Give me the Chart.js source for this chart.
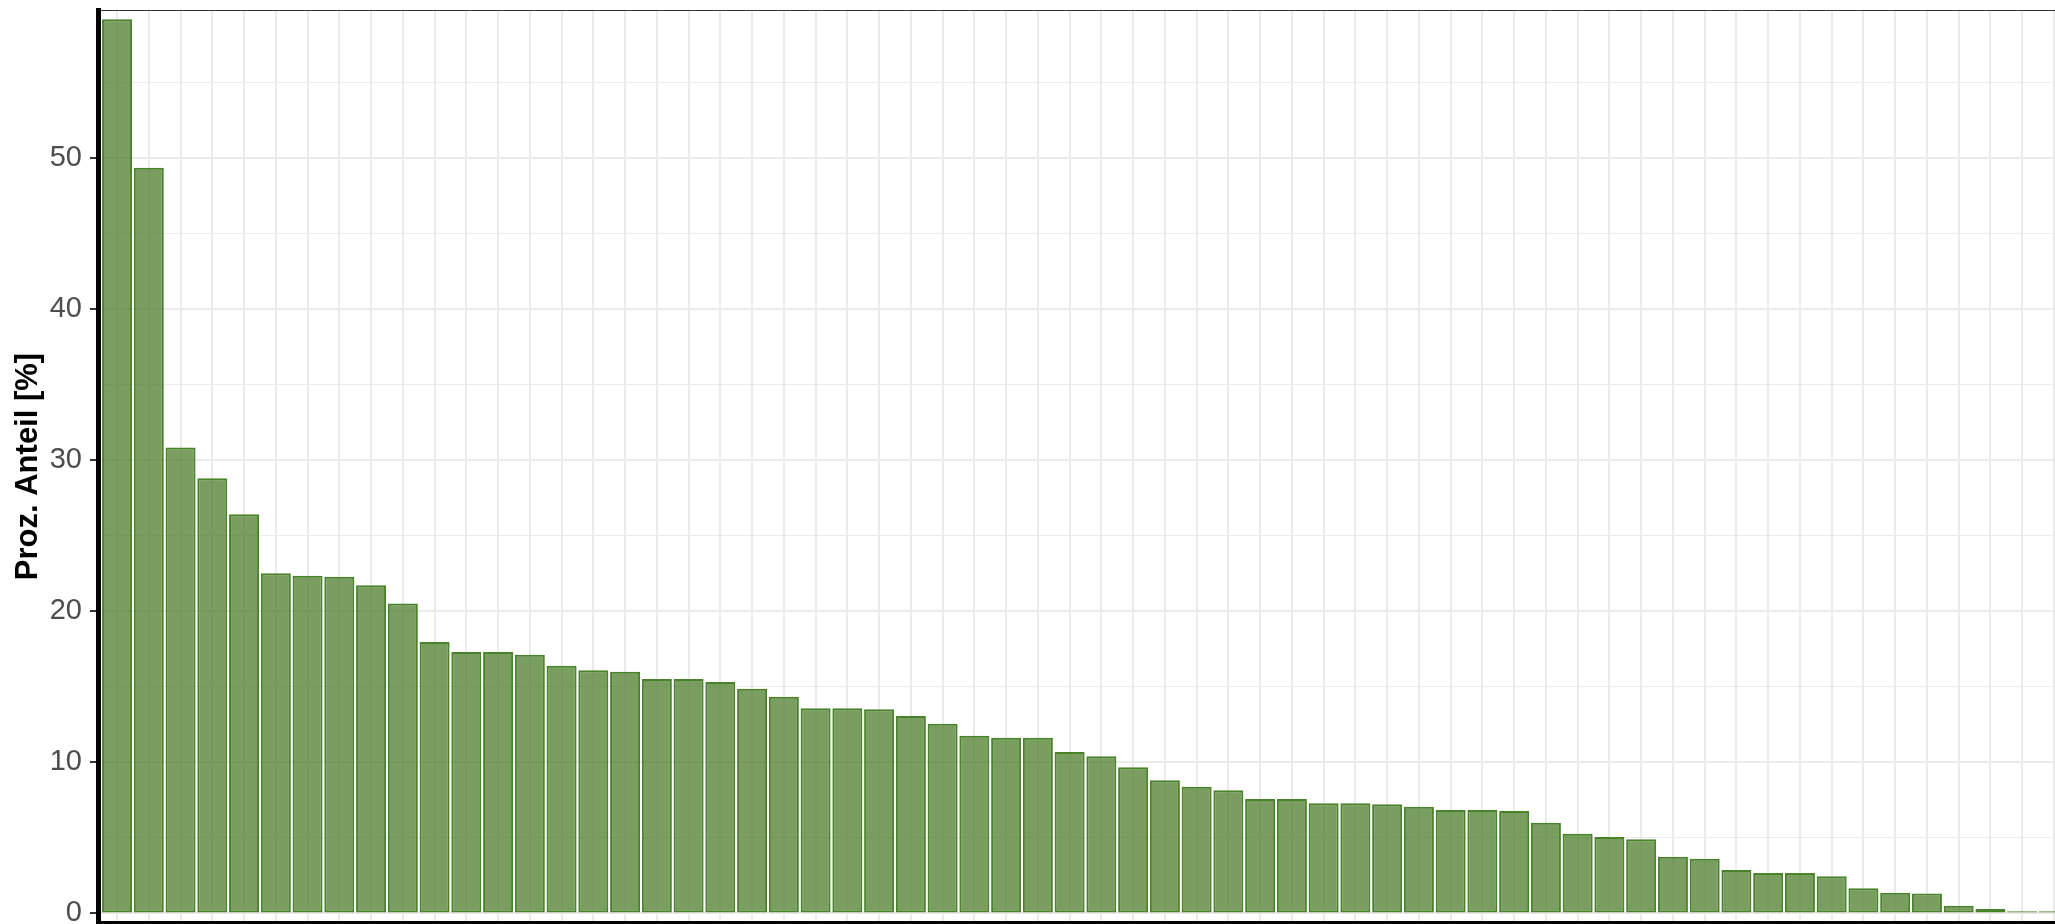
<!DOCTYPE html>
<html>
<head>
<meta charset="utf-8">
<script src="https://cdn.jsdelivr.net/npm/chart.js@4/dist/chart.umd.min.js"></script>
<style>
  html, body { margin: 0; padding: 0; background: #fff; overflow: hidden; }
  canvas { display: block; }
</style>
</head>
<body>
<canvas id="chart" width="2073" height="924"></canvas>
<script>
// categories (names are cut off in the picture, so just their rank)
const categories = [1, 2, 3, 4, 5, 6, 7, 8, 9, 10, 11, 12, 13, 14, 15, 16, 17, 18, 19, 20,
  21, 22, 23, 24, 25, 26, 27, 28, 29, 30, 31, 32, 33, 34, 35, 36, 37, 38, 39, 40,
  41, 42, 43, 44, 45, 46, 47, 48, 49, 50, 51, 52, 53, 54, 55, 56, 57, 58, 59, 60, 61, 62];

// Proz. Anteil [%]
const shares = [59.22, 49.39, 30.85, 28.82, 26.44, 22.53, 22.37, 22.30, 21.74, 20.52,
  17.98, 17.32, 17.32, 17.14, 16.41, 16.11, 16.01, 15.53, 15.53, 15.33,
  14.89, 14.36, 13.59, 13.59, 13.52, 13.08, 12.57, 11.77, 11.64, 11.64,
  10.70, 10.41, 9.68, 8.82, 8.40, 8.16, 7.58, 7.58, 7.30, 7.30,
  7.23, 7.07, 6.85, 6.85, 6.79, 6.01, 5.28, 5.07, 4.91, 3.76,
  3.63, 2.88, 2.68, 2.68, 2.46, 1.67, 1.38, 1.32, 0.52, 0.30, 0.15, 0.15];

const yMajor = [0, 10, 20, 30, 40, 50];
const yMinor = [5, 15, 25, 35, 45, 55];

const yTicks = yMajor.concat(yMinor).sort((a, b) => a - b);
const isMajor = v => yMajor.includes(v);

new Chart(document.getElementById('chart'), {
  type: 'bar',
  data: {
    datasets: [{
      data: categories.map((c, i) => ({ x: c, y: shares[i] })),
      backgroundColor: 'rgba(76, 126, 42, 0.75)',
      borderColor: '#4a822b',
      borderWidth: 2,
      borderSkipped: false,
      barPercentage: 0.945,
      categoryPercentage: 1
    }]
  },
  options: {
    responsive: false,
    devicePixelRatio: 1,
    animation: false,
    layout: { padding: 0 },
    plugins: { legend: { display: false }, tooltip: { enabled: false } },
    scales: {
      x: {
        type: 'linear',
        position: 'bottom',
        offset: false,
        min: 0.4,
        max: 62.6,
        afterBuildTicks: s => { s.ticks = categories.map(v => ({ value: v })); },
        afterFit: s => { s.height = 1; s.paddingLeft = 0; s.paddingRight = 0; },
        ticks: { display: false },
        grid: { color: '#ebebeb', lineWidth: 2, drawTicks: false, offset: false },
        border: { color: '#000', width: 4 }
      },
      xTop: {
        type: 'linear',
        position: 'top',
        offset: false,
        afterFit: s => { s.height = 10; s.paddingLeft = 0; s.paddingRight = 0; },
        ticks: { display: false },
        grid: { display: false, drawTicks: false },
        border: { color: '#333', width: 1 }
      },
      y: {
        min: -0.63,
        max: 59.83,
        afterBuildTicks: s => { s.ticks = yTicks.map(v => ({ value: v })); },
        afterFit: s => { s.width = 98; s.paddingTop = 0; s.paddingBottom = 0; },
        ticks: {
          callback: v => isMajor(v) ? v : '',
          color: '#4d4d4d',
          padding: 8,
          font: { family: '"Liberation Sans", Arial, sans-serif', size: 29 }
        },
        grid: {
          color: '#ebebeb',
          lineWidth: ctx => isMajor(ctx.tick.value) ? 2 : 1,
          tickColor: ctx => isMajor(ctx.tick.value) ? '#333' : 'rgba(0,0,0,0)',
          tickWidth: 2,
          tickLength: 8
        },
        border: { color: '#000', width: 5 },
        title: {
          display: true,
          text: 'Proz. Anteil [%]',
          color: '#000',
          padding: { top: 10, bottom: 0 },
          font: { family: '"Liberation Sans", Arial, sans-serif', size: 31, weight: 'bold' }
        }
      }
    }
  }
});
</script>
</body>
</html>
